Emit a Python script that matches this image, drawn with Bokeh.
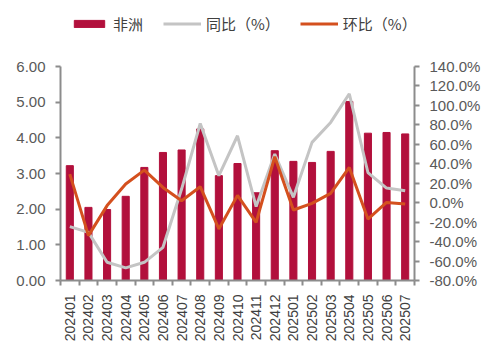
from bokeh.plotting import figure
from bokeh.models import (Range1d, LinearAxis, FixedTicker, PrintfTickFormatter,
                          Legend, LegendItem, ColumnDataSource)
from bokeh.embed import file_html
from bokeh.resources import INLINE
import math

months = ["202401", "202402", "202403", "202404", "202405", "202406", "202407",
          "202408", "202409", "202410", "202411", "202412", "202501", "202502",
          "202503", "202504", "202505", "202506", "202507"]
africa = [3.22, 2.05, 1.99, 2.36, 3.17, 3.59, 3.66, 4.25, 2.94, 3.28, 2.46,
          3.64, 3.34, 3.31, 3.62, 5.02, 4.13, 4.15, 4.11]
yoy = [-24.6, -30.5, -61.3, -67.0, -61.3, -45.9, 14.0, 81.4, 27.7, 68.8, -4.0,
       50.0, 5.5, 62.0, 82.5, 112.0, 31.0, 15.0, 12.3]
mom = [29.4, -33.9, -3.0, 19.2, 33.5, 15.7, 2.0, 16.4, -27.0, 7.5, -20.2,
       47.2, -7.5, -0.7, 9.6, 36.2, -16.8, 0.3, -1.4]
left_ticks = [0, 1, 2, 3, 4, 5, 6]
right_ticks = list(range(-80, 141, 20))

idx = list(range(len(months)))
src = ColumnDataSource(dict(x=idx, africa=africa, yoy=yoy, mom=mom))

# frame is taller than the axes so the legend sits inside it; axes are bounded
frame_h = 265
axis_h = 214
top_left = 6 * frame_h / axis_h
top_right = -80 + 220 * frame_h / axis_h

p = figure(width=496, height=355, output_backend="svg", toolbar_location=None,
           x_range=Range1d(-0.5, len(months) - 0.5), y_range=Range1d(0, top_left),
           min_border_left=60, min_border_right=82, min_border_top=15,
           min_border_bottom=75, x_axis_location="below")
p.outline_line_color = None
p.xgrid.grid_line_color = None
p.ygrid.grid_line_color = None
p.extra_y_ranges = {"pct": Range1d(-80, top_right)}

axis_col = "#8c8c8c"
lab_col = "#595959"

bars = p.vbar(x="x", top="africa", width=0.38, source=src, color="#B2103C")
l1 = p.line(x="x", y="yoy", source=src, y_range_name="pct", color="#C4C4C4", line_width=3)
l2 = p.line(x="x", y="mom", source=src, y_range_name="pct", color="#D4501E", line_width=3)

# left axis
ya = p.yaxis[0]
ya.bounds = (0, 6)
ya.ticker = FixedTicker(ticks=left_ticks)
ya.formatter = PrintfTickFormatter(format="%.2f")
ya.axis_line_color = axis_col
ya.axis_line_width = 2
ya.major_tick_line_color = axis_col
ya.major_tick_line_width = 2
ya.major_tick_in = 0
ya.major_tick_out = 5
ya.minor_tick_line_color = None
ya.major_label_text_font = "Liberation Sans"
ya.major_label_text_font_size = "15px"
ya.major_label_text_color = lab_col
ya.major_label_standoff = 10

# right axis
ra = LinearAxis(y_range_name="pct", bounds=(-80, 140))
ra.ticker = FixedTicker(ticks=right_ticks)
ra.formatter = PrintfTickFormatter(format="%.1f%%")
ra.axis_line_color = axis_col
ra.axis_line_width = 2
ra.major_tick_line_color = axis_col
ra.major_tick_line_width = 2
ra.major_tick_in = 0
ra.major_tick_out = 5
ra.minor_tick_line_color = None
ra.major_label_text_font = "Liberation Sans"
ra.major_label_text_font_size = "15px"
ra.major_label_text_color = lab_col
ra.major_label_standoff = 10
p.add_layout(ra, "right")

# bottom axis
xa = p.xaxis[0]
xa.ticker = FixedTicker(ticks=idx, minor_ticks=[i - 0.5 for i in range(len(months) + 1)])
xa.major_label_overrides = {i: m for i, m in enumerate(months)}
xa.major_label_orientation = math.pi / 2
xa.axis_line_color = axis_col
xa.axis_line_width = 2
xa.major_tick_line_color = None
xa.minor_tick_line_color = axis_col
xa.minor_tick_line_width = 2
xa.minor_tick_in = 0
xa.minor_tick_out = 5
xa.major_label_text_font = "Liberation Sans"
xa.major_label_text_font_size = "14px"
xa.major_label_text_color = "#404040"
xa.major_label_standoff = 8

legend = Legend(items=[LegendItem(label="非洲", renderers=[bars]),
                       LegendItem(label="同比（%）", renderers=[l1]),
                       LegendItem(label="环比（%）", renderers=[l2])],
                orientation="horizontal", location=(10, 246))
legend.padding = 0
legend.margin = 0
legend.spacing = 20
legend.glyph_width = 38
legend.glyph_height = 9
legend.label_height = 14
legend.label_standoff = 5
legend.label_text_font = "Noto Sans CJK SC"
legend.label_text_font_size = "15px"
legend.label_text_color = "#404040"
legend.border_line_color = None
legend.background_fill_alpha = 0
p.add_layout(legend, "center")

open("out.html", "w").write(file_html(p, INLINE))
